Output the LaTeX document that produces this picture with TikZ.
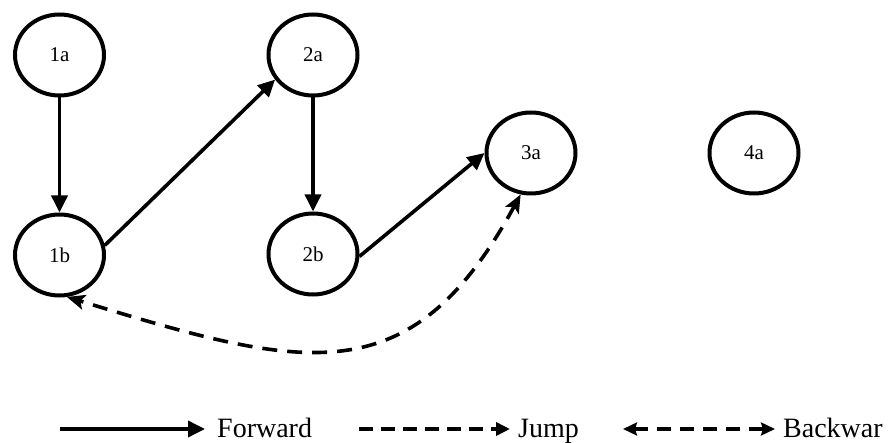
\documentclass[tikz,border=0pt]{standalone}
\usepackage{fontspec}
\setmainfont{Liberation Serif}
\usetikzlibrary{shapes.geometric,arrows.meta}

\tikzset{
  state/.style={ellipse, draw, line width=4pt, minimum width=89pt, minimum height=81pt,
    inner sep=0pt, font=\fontsize{21}{21}\selectfont},
  fwd/.style={line width=3.6pt, -{Triangle[length=17pt,width=16pt]}},
  jmp/.style={line width=3.6pt, dash pattern=on 14pt off 8pt, -{Triangle[length=14pt,width=13pt]}},
  bwd/.style={line width=3.6pt, dash pattern=on 15pt off 10pt,
    {Stealth[length=18pt,width=15pt,inset=4pt]}-{Stealth[length=18pt,width=15pt,inset=4pt]}},
  bwdkey/.style={line width=3.6pt, dash pattern=on 14pt off 9pt,
    {Stealth[length=14pt,width=13pt,inset=2pt]}-{Stealth[length=14pt,width=13pt,inset=2pt]}},
  keytext/.style={anchor=base west, inner sep=0pt, font=\fontsize{28}{28}\selectfont},
}

\begin{document}
\begin{tikzpicture}[x=1pt, y=-1pt]
  \useasboundingbox (0,0) rectangle (889,443);

  % states
  \node[state] (1a) at (59.5,55)  {1a};
  \node[state] (1b) at (59.5,255) {1b};
  \node[state] (2a) at (313,55)   {2a};
  \node[state] (2b) at (313,254)  {2b};
  \node[state] (3a) at (531,153)  {3a};
  \node[state] (4a) at (754,153)  {4a};

  % forward transitions
  \draw[fwd] (1a) -- (1b);
  \draw[fwd] (1b.12) -- (2a.213);
  \draw[fwd] (2a) -- (2b);
  \draw[fwd] (2b.-3) -- (3a.180);

  % backward transition
  \draw[bwd] (3a.256) .. controls (410,398) and (303,369) .. (1b.280);

  % key
  \coordinate (kf1) at (60,429);
  \coordinate (kf2) at (205,429);
  \node[keytext] (kft) at (217,438) {Forward};
  \draw[fwd] (kf1) -- (kf2);

  \coordinate (kj1) at (359,429);
  \coordinate (kj2) at (510,429);
  \node[keytext] (kjt) at (518,438) {Jump};
  \draw[jmp] (kj1) -- (kj2);

  \coordinate (kb1) at (623,429);
  \coordinate (kb2) at (775,429);
  \node[keytext] (kbt) at (783,438) {Backwar};
  \draw[bwdkey] (kb1) -- (kb2);
\end{tikzpicture}
\end{document}
